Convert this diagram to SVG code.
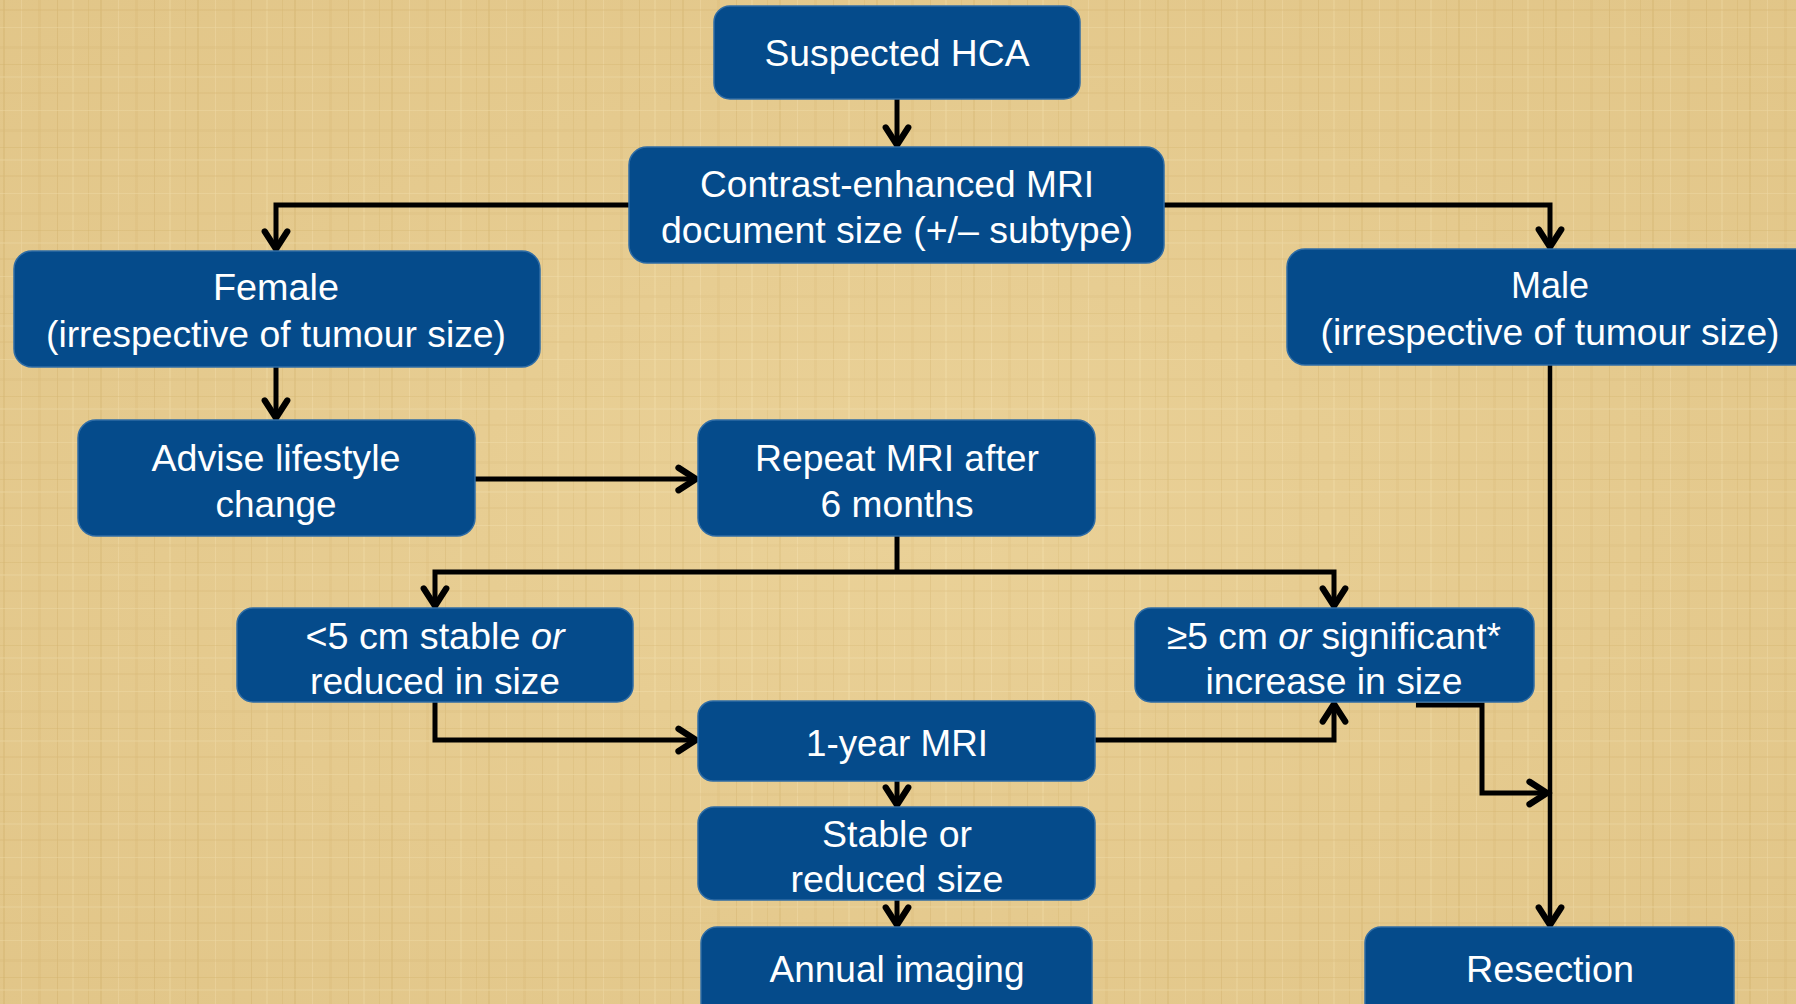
<svg xmlns="http://www.w3.org/2000/svg" width="1796" height="1004" viewBox="0 0 1796 1004">
<defs>
<style>
.box{fill:#054B8B;stroke:#2F6CA5;stroke-width:1.5}
.t{font-family:"Liberation Sans",Arial,sans-serif;font-size:37px;fill:#FFFFFF;text-anchor:middle}
.c{fill:none;stroke:#000000;stroke-width:5;stroke-linejoin:miter}
</style>
<marker id="ah" markerUnits="userSpaceOnUse" markerWidth="30" markerHeight="30" viewBox="-16 -12 20 24" refX="0" refY="0" orient="auto">
<path d="M-14,-9 L0,0 L-14,9" fill="none" stroke="#000" stroke-width="5" stroke-linecap="round" stroke-linejoin="miter"/>
</marker>
<pattern id="tex" width="97" height="83" patternUnits="userSpaceOnUse">
<rect width="97" height="83" fill="#E8CE93"/>
<rect x="3" y="0" width="2" height="83" fill="#D8B874" opacity="0.45"/>
<rect x="21" y="0" width="1" height="83" fill="#F3DFAE" opacity="0.6"/>
<rect x="38" y="0" width="3" height="83" fill="#DCBD7C" opacity="0.35"/>
<rect x="57" y="0" width="1" height="83" fill="#D3B26C" opacity="0.45"/>
<rect x="72" y="0" width="2" height="83" fill="#F2DDAA" opacity="0.5"/>
<rect x="88" y="0" width="1" height="83" fill="#D6B672" opacity="0.4"/>
<rect x="0" y="9" width="97" height="2" fill="#D9BA78" opacity="0.35"/>
<rect x="0" y="27" width="97" height="1" fill="#F4E1B2" opacity="0.5"/>
<rect x="0" y="46" width="97" height="3" fill="#DDBF7F" opacity="0.3"/>
<rect x="0" y="64" width="97" height="1" fill="#D4B36E" opacity="0.4"/>
<rect x="0" y="76" width="97" height="2" fill="#F1DCA8" opacity="0.45"/>
</pattern>
<radialGradient id="shade" cx="0.5" cy="0.5" r="0.7">
<stop offset="0" stop-color="#F2DDA8" stop-opacity="0.25"/>
<stop offset="1" stop-color="#C9A55E" stop-opacity="0.2"/>
</radialGradient>
</defs>
<rect width="1796" height="1004" fill="url(#tex)"/>
<rect width="1796" height="1004" fill="url(#shade)"/>

<g id="connectors">
<path class="c" d="M897,99 L897,145" marker-end="url(#ah)"/>
<path class="c" d="M629,205 L276,205 L276,249" marker-end="url(#ah)"/>
<path class="c" d="M1164,205 L1550,205 L1550,247" marker-end="url(#ah)"/>
<path class="c" d="M276,367 L276,418" marker-end="url(#ah)"/>
<path class="c" d="M475,479 L696,479" marker-end="url(#ah)"/>
<path class="c" d="M897,536 L897,572"/>
<path class="c" d="M897,572 L435,572 L435,606" marker-end="url(#ah)"/>
<path class="c" d="M897,572 L1334,572 L1334,606" marker-end="url(#ah)"/>
<path class="c" d="M435,702 L435,740 L696,740" marker-end="url(#ah)"/>
<path class="c" d="M1095,740 L1334,740 L1334,704" marker-end="url(#ah)"/>
<path class="c" d="M1416,705 L1482,705 L1482,793 L1547,793" marker-end="url(#ah)"/>
<path class="c" d="M1550,365 L1550,925" style="stroke-width:4.5" marker-end="url(#ah)"/>
<path class="c" d="M897,781 L897,805" marker-end="url(#ah)"/>
<path class="c" d="M897,900 L897,925" marker-end="url(#ah)"/>
</g>

<g id="n-suspected">
<rect class="box" x="714" y="6" width="366" height="93" rx="16"/>
<text class="t" x="897" y="66" textLength="265" lengthAdjust="spacingAndGlyphs">Suspected HCA</text>
</g>
<g id="n-contrast">
<rect class="box" x="629" y="147" width="535" height="116" rx="18"/>
<text class="t" x="897" y="197" textLength="394" lengthAdjust="spacingAndGlyphs">Contrast-enhanced MRI</text>
<text class="t" x="897" y="243" textLength="472" lengthAdjust="spacingAndGlyphs">document size (+/– subtype)</text>
</g>
<g id="n-female">
<rect class="box" x="14" y="251" width="526" height="116" rx="18"/>
<text class="t" x="276" y="300" textLength="126" lengthAdjust="spacingAndGlyphs">Female</text>
<text class="t" x="276" y="347" textLength="460" lengthAdjust="spacingAndGlyphs">(irrespective of tumour size)</text>
</g>
<g id="n-male">
<rect class="box" x="1287" y="249" width="530" height="116" rx="18"/>
<text class="t" x="1550" y="298" textLength="78" lengthAdjust="spacingAndGlyphs">Male</text>
<text class="t" x="1550" y="345" textLength="459" lengthAdjust="spacingAndGlyphs">(irrespective of tumour size)</text>
</g>
<g id="n-advise">
<rect class="box" x="78" y="420" width="397" height="116" rx="18"/>
<text class="t" x="276" y="471" textLength="249" lengthAdjust="spacingAndGlyphs">Advise lifestyle</text>
<text class="t" x="276" y="517" textLength="121" lengthAdjust="spacingAndGlyphs">change</text>
</g>
<g id="n-repeat">
<rect class="box" x="698" y="420" width="397" height="116" rx="18"/>
<text class="t" x="897" y="471" textLength="284" lengthAdjust="spacingAndGlyphs">Repeat MRI after</text>
<text class="t" x="897" y="517" textLength="153" lengthAdjust="spacingAndGlyphs">6 months</text>
</g>
<g id="n-small">
<rect class="box" x="237" y="608" width="396" height="94" rx="16"/>
<text class="t" x="435" y="649" textLength="259" lengthAdjust="spacingAndGlyphs">&lt;5 cm stable <tspan font-style="italic">or</tspan></text>
<text class="t" x="435" y="694" textLength="250" lengthAdjust="spacingAndGlyphs">reduced in size</text>
</g>
<g id="n-large">
<rect class="box" x="1135" y="608" width="399" height="94" rx="16"/>
<text class="t" x="1334" y="649" textLength="334" lengthAdjust="spacingAndGlyphs">≥5 cm <tspan font-style="italic">or</tspan> significant*</text>
<text class="t" x="1334" y="694" textLength="257" lengthAdjust="spacingAndGlyphs">increase in size</text>
</g>
<g id="n-oneyear">
<rect class="box" x="698" y="701" width="397" height="80" rx="15"/>
<text class="t" x="897" y="756" textLength="182" lengthAdjust="spacingAndGlyphs">1-year MRI</text>
</g>
<g id="n-stable">
<rect class="box" x="698" y="807" width="397" height="93" rx="16"/>
<text class="t" x="897" y="847" textLength="150" lengthAdjust="spacingAndGlyphs">Stable or</text>
<text class="t" x="897" y="892" textLength="213" lengthAdjust="spacingAndGlyphs">reduced size</text>
</g>
<g id="n-annual">
<rect class="box" x="701" y="927" width="391" height="95" rx="16"/>
<text class="t" x="897" y="982" textLength="255" lengthAdjust="spacingAndGlyphs">Annual imaging</text>
</g>
<g id="n-resection">
<rect class="box" x="1365" y="927" width="369" height="95" rx="16"/>
<text class="t" x="1550" y="982" textLength="168" lengthAdjust="spacingAndGlyphs">Resection</text>
</g>
</svg>
